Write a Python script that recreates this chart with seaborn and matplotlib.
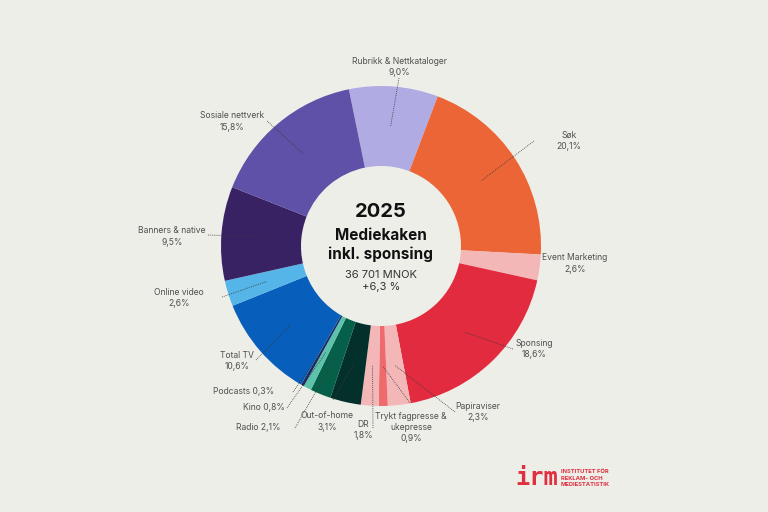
import numpy as np
import matplotlib
matplotlib.use("Agg")
import matplotlib.pyplot as plt
import seaborn as sns

# ---------------- data ----------------
categories = ["Rubrikk & Nettkataloger", "Søk", "Event Marketing", "Sponsing",
              "Papiraviser", "Trykt fagpresse &\nukepresse", "DR", "Out-of-home",
              "Radio", "Kino", "Podcasts", "Total TV", "Online video",
              "Banners & native", "Sosiale nettverk"]
shares = [9.0, 20.1, 2.6, 18.6, 2.3, 0.9, 1.8, 3.1, 2.1, 0.8, 0.3, 10.6, 2.6, 9.5, 15.8]
colors = ["#b1abe4", "#ec6536", "#f4b7b8", "#e22b3e", "#f4b7b8", "#ef6a6d", "#f4b7b8",
          "#03302a", "#066049", "#5cc2ab", "#1b2a63", "#075ebb", "#55b5e9",
          "#392264", "#5f51a8"]
inline_label = [False, False, False, False, False, False, False, False,
                True, True, True, False, False, False, False]
center_year = "2025"
center_title = "Mediekaken\ninkl. sponsing"
center_total = "36 701 MNOK"
center_growth = "+6,3 %"

# ---------------- layout (pixels in a 768x512 canvas) ----------------
W, H = 768, 512
CX, CY, R = 381, 246, 160
label_pos = [(399, 67), (569, 141), (575, 263.5), (534, 349), (478, 412),
             (411, 427.5), (363, 430), (327, 421.5), (258, 428), (264, 408),
             (244, 392), (237, 361), (179, 298), (172, 236.5), (232, 121.5)]
line_start = [(399, 78), (534, 141), None, (513, 349), (455, 412), (410, 403),
              (373, 428), (333, 400), (295, 428), (287, 408), (293, 392),
              (256, 360), (222, 297), (208, 235), (267, 121)]

def px(p):
    return ((p[0] - CX) / R, (CY - p[1]) / R)

bg = "#eeeee9"
sns.set_theme(style="white", rc={"figure.facecolor": bg, "axes.facecolor": bg})
plt.rcParams["font.family"] = ["Inter", "DejaVu Sans"]

fig = plt.figure(figsize=(W / 100, H / 100), dpi=100)
ax = fig.add_axes([0, 0, 1, 1])

start = 101.6
wedges, _ = ax.pie(shares, colors=colors, startangle=start, counterclock=False,
                   radius=1.0, center=(0, 0), frame=True,
                   wedgeprops=dict(width=0.5, edgecolor="none", linewidth=0))
ax.set_xlim(-CX / R, (W - CX) / R)
ax.set_ylim(-(H - CY) / R, CY / R)
ax.set_aspect("equal")
ax.axis("off")

label_color = "#505050"
total = sum(shares)
cum = 0.0
for name, v, inl, lp, ls in zip(categories, shares, inline_label, label_pos, line_start):
    mid = cum + v / 2
    cum += v
    ang = np.deg2rad(start - mid / total * 360)
    if ls is not None:
        ex, ey = 0.75 * np.cos(ang), 0.75 * np.sin(ang)
        sx, sy = px(ls)
        ax.plot([sx, ex], [sy, ey], color="#3a3a3a", lw=0.6,
                linestyle=(0, (1, 1.3)), solid_capstyle="butt")
    pct = f"{v:.1f}".replace(".", ",") + "%"
    txt = f"{name} {pct}" if inl else f"{name}\n{pct}"
    tx, ty = px(lp)
    ax.text(tx, ty, txt, ha="center", va="center", fontsize=6.2,
            color=label_color, linespacing=1.3)

# center text
ax.text(0, px((0, 212))[1], center_year, ha="center", va="center",
        fontsize=14.5, fontweight="bold", color="#111111")
ax.text(0, px((0, 245))[1], center_title, ha="center", va="center",
        fontsize=11, fontweight="bold", color="#111111", linespacing=1.25)
ax.text(0, px((0, 275))[1], center_total, ha="center", va="center",
        fontsize=8, color="#333333")
ax.text(0, px((0, 287))[1], center_growth, ha="center", va="center",
        fontsize=8, color="#333333")

# logo
red = "#e0303f"
ax.text(*px((537, 478)), "irm", ha="center", va="center", fontsize=17,
        fontweight="bold", color=red, family="DejaVu Sans Mono")
ax.text(*px((561, 478)), "INSTITUTET FÖR\nREKLAM- OCH\nMEDIESTATISTIK",
        ha="left", va="center", fontsize=4.2, fontweight="bold", color=red,
        linespacing=1.3)

fig.savefig("out.png", dpi=100, facecolor=bg)
